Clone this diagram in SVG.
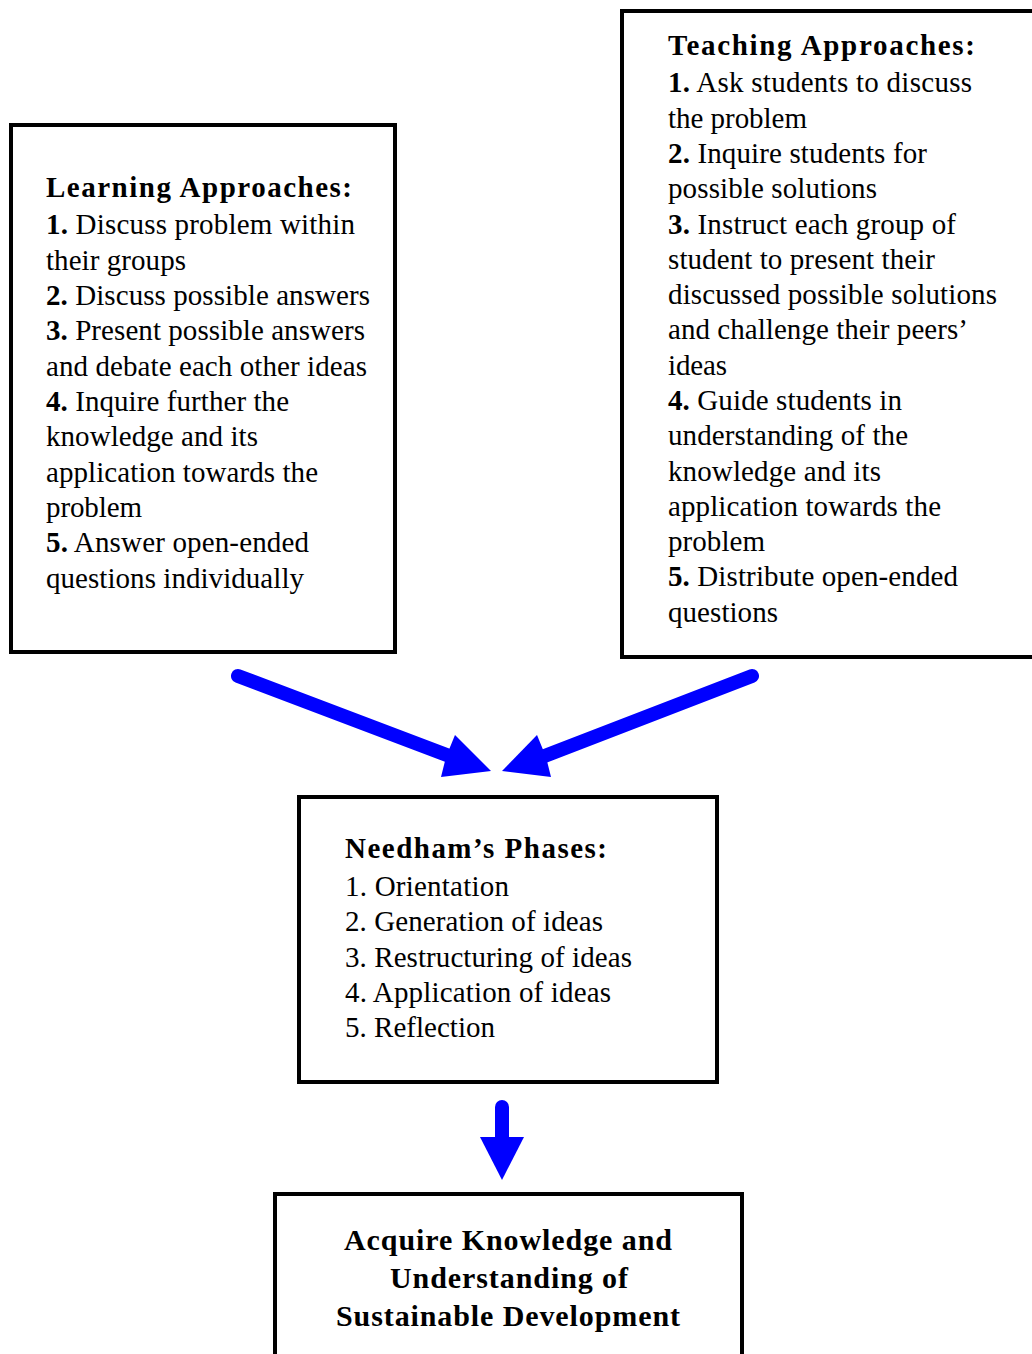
<svg xmlns="http://www.w3.org/2000/svg" width="1032" height="1354" viewBox="0 0 1032 1354">
  <style>
    .box { fill: #ffffff; stroke: #000000; stroke-width: 4; }
    text { font-family: "Liberation Serif", Tinos, "Times New Roman", Times, serif; font-size: 29px; fill: #000000; }
    .b { font-weight: bold; }
    .c { text-anchor: middle; font-weight: bold; font-size: 30px; }
    .shaft { stroke: #0000ff; stroke-width: 14; stroke-linecap: round; fill: none; }
    .head { fill: #0000ff; }
  </style>
  <rect width="1032" height="1354" fill="#ffffff"/>

  <g id="learning">
    <rect class="box" x="11" y="125" width="384" height="527"/>
    <text class="b" x="46" y="197" textLength="306">Learning Approaches:</text>
    <text x="46" y="234" textLength="309"><tspan class="b">1.</tspan> Discuss problem within</text>
    <text x="46" y="270" textLength="140">their groups</text>
    <text x="46" y="305" textLength="324"><tspan class="b">2.</tspan> Discuss possible answers</text>
    <text x="46" y="340" textLength="319"><tspan class="b">3.</tspan> Present possible answers</text>
    <text x="46" y="376" textLength="321">and debate each other ideas</text>
    <text x="46" y="411" textLength="243"><tspan class="b">4.</tspan> Inquire further the</text>
    <text x="46" y="446" textLength="212">knowledge and its</text>
    <text x="46" y="482" textLength="272">application towards the</text>
    <text x="46" y="517" textLength="96">problem</text>
    <text x="46" y="552" textLength="263"><tspan class="b">5.</tspan> Answer open-ended</text>
    <text x="46" y="588" textLength="258">questions individually</text>
  </g>

  <g id="teaching">
    <rect class="box" x="622" y="11" width="420" height="646"/>
    <text class="b" x="668" y="55" textLength="307">Teaching Approaches:</text>
    <text x="668" y="92" textLength="304"><tspan class="b">1.</tspan> Ask students to discuss</text>
    <text x="668" y="128" textLength="139">the problem</text>
    <text x="668" y="163" textLength="259"><tspan class="b">2.</tspan> Inquire students for</text>
    <text x="668" y="198" textLength="209">possible solutions</text>
    <text x="668" y="234" textLength="288"><tspan class="b">3.</tspan> Instruct each group of</text>
    <text x="668" y="269" textLength="267">student to present their</text>
    <text x="668" y="304" textLength="329">discussed possible solutions</text>
    <text x="668" y="339" textLength="300">and challenge their peers’</text>
    <text x="668" y="375" textLength="59">ideas</text>
    <text x="668" y="410" textLength="234"><tspan class="b">4.</tspan> Guide students in</text>
    <text x="668" y="445" textLength="240">understanding of the</text>
    <text x="668" y="481" textLength="213">knowledge and its</text>
    <text x="668" y="516" textLength="273">application towards the</text>
    <text x="668" y="551" textLength="97">problem</text>
    <text x="668" y="586" textLength="290"><tspan class="b">5.</tspan> Distribute open-ended</text>
    <text x="668" y="622" textLength="110">questions</text>
  </g>

  <g id="needham">
    <rect class="box" x="299" y="797" width="418" height="285"/>
    <text class="b" x="345" y="858" textLength="262">Needham’s Phases:</text>
    <text x="345" y="896" textLength="164">1. Orientation</text>
    <text x="345" y="931" textLength="258">2. Generation of ideas</text>
    <text x="345" y="967" textLength="287">3. Restructuring of ideas</text>
    <text x="345" y="1002" textLength="266">4. Application of ideas</text>
    <text x="345" y="1037" textLength="150">5. Reflection</text>
  </g>

  <g id="outcome">
    <rect class="box" x="275" y="1194" width="467" height="180"/>
    <text class="c" x="508" y="1250" textLength="328">Acquire Knowledge and</text>
    <text class="c" x="509" y="1288" textLength="238">Understanding of</text>
    <text class="c" x="508" y="1326" textLength="344">Sustainable Development</text>
  </g>

  <g id="connectors">
    <!-- learning -> needham -->
    <line class="shaft" x1="238" y1="676" x2="452" y2="757"/>
    <polygon class="head" points="491,771 441,777 446,757 455,735"/>
    <!-- teaching -> needham -->
    <line class="shaft" x1="752" y1="676" x2="542" y2="757"/>
    <polygon class="head" points="502,771 537,735 546,757 551,777"/>
    <!-- needham -> outcome -->
    <line class="shaft" x1="502" y1="1107" x2="502" y2="1142"/>
    <polygon class="head" points="480,1137 524,1137 502,1180"/>
  </g>
</svg>
